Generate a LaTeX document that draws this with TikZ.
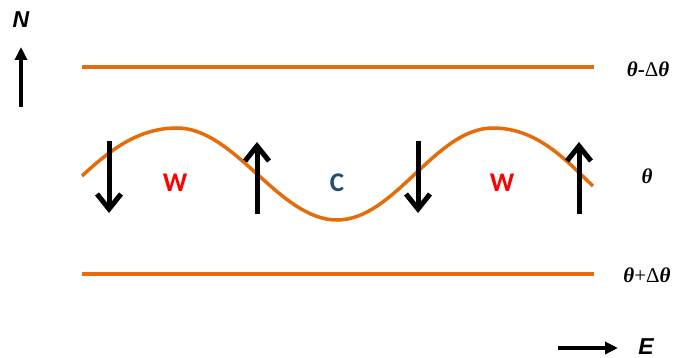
\documentclass[tikz,border=0pt]{standalone}
\usepackage{fontspec}
\setmainfont{Liberation Serif}
\newfontfamily\axisfont{Liberation Sans}
\newfontfamily\cellfont{Carlito}
\usepackage{tikz}
\usetikzlibrary{arrows.meta, positioning}

\definecolor{waveorange}{RGB}{228,108,10}
\definecolor{cellblue}{RGB}{31,78,121}
\definecolor{cellred}{RGB}{255,0,0}

\tikzset{
  band/.style={draw=waveorange, line width=3.5pt},
  flow/.style={line width=5pt, -{Straight Barb[length=15pt, width=24pt, line width=5pt]}},
  axis/.style={line width=3.3pt, -{Triangle[length=13pt, width=12pt]}},
  lat/.style={inner sep=0pt, font=\fontsize{21}{25}\selectfont},
  cell/.style={inner sep=0pt, font=\cellfont\bfseries\fontsize{27}{32}\selectfont},
  dir/.style={inner sep=0pt, font=\axisfont\bfseries\itshape\fontsize{23}{27}\selectfont}
}

\begin{document}
\begin{tikzpicture}[x=1pt, y=-1pt]
  \useasboundingbox (0,0) rectangle (677,358);

  % Latitude lines
  \draw[band] (82,67) -- (594,67);
  \draw[band] (82,274) -- (594,274);
  \node[lat] (upper) at (648,69) {\textbf{\textit{θ}-}Δ\textbf{\textit{θ}}};
  \node[lat] (mid) at (647,176) {\textbf{\textit{θ}}};
  \node[lat] (lower) at (647,275) {\textbf{\textit{θ}}+Δ\textbf{\textit{θ}}};

  % Wave
  \draw[band] (82,176) .. controls (112,148) and (140,128) .. (177,128)
    .. controls (235,128) and (279,220) .. (337,220)
    .. controls (395,220) and (435,128) .. (493,128)
    .. controls (540,128) and (570,165) .. (593,186);

  % Flow arrows
  \draw[flow] (109,141) -- (109,213);
  \draw[flow] (257,214) -- (257,142);
  \draw[flow] (418,141) -- (418,213);
  \draw[flow] (579,214) -- (579,142);

  % Cells
  \node[cell, text=cellred] (warm1) at (175,183) {W};
  \node[cell, text=cellblue] (cold) at (337,183) {C};
  \node[cell, text=cellred] (warm2) at (502,183) {W};

  % Directions
  \node[dir, anchor=base] (north) at (21,28) {N};
  \coordinate (nbase) at (21,107);
  \coordinate (ntip) at (21,47);
  \draw[axis] (nbase) -- (ntip);
  \node[dir, anchor=base] (east) at (646,354) {E};
  \coordinate (ebase) at (558,348);
  \coordinate (etip) at (618,348);
  \draw[axis] (ebase) -- (etip);
\end{tikzpicture}
\end{document}
